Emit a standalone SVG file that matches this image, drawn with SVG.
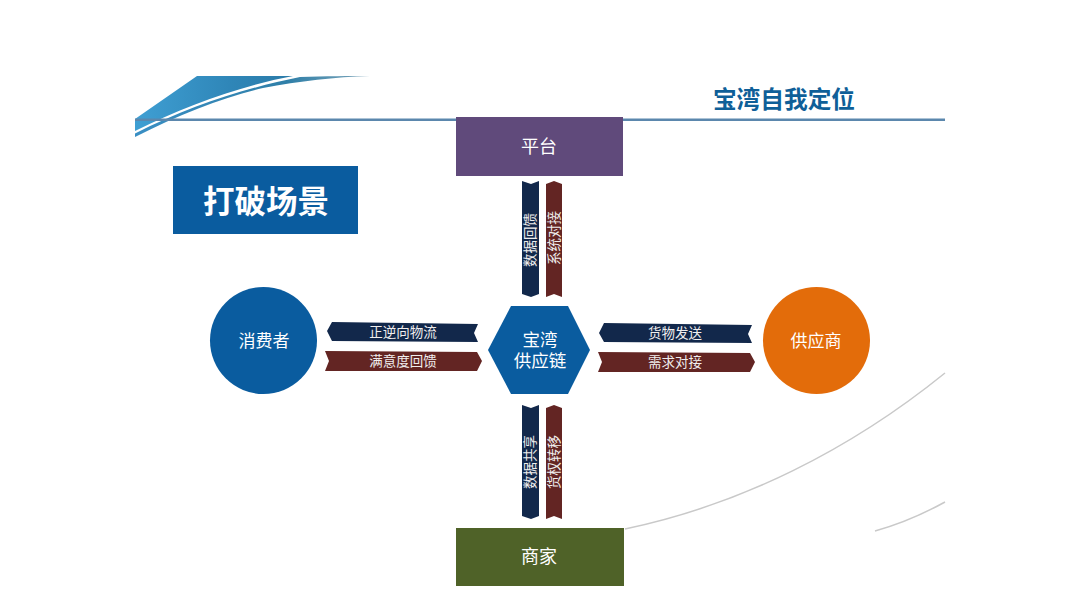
<svg xmlns="http://www.w3.org/2000/svg" width="1080" height="608" viewBox="0 0 1080 608">
<defs>
<linearGradient id="sw" x1="0" y1="0" x2="1" y2="0"><stop offset="0" stop-color="#3f9fd3"/><stop offset="0.6" stop-color="#2f86b8"/><stop offset="1" stop-color="#2b7ba8"/></linearGradient>
<linearGradient id="sw2" x1="0" y1="0" x2="1" y2="0"><stop offset="0" stop-color="#3a8fc4"/><stop offset="0.65" stop-color="#2f7fa8"/><stop offset="1" stop-color="#7fa6ba"/></linearGradient>
</defs>
<style>
.t{font-family:"Noto Sans CJK SC","Liberation Sans",sans-serif;text-anchor:middle;fill:#fff}
.n{font-size:17px}
.b{font-size:18px}
.r{font-size:13.500px;fill:#f0eeee}
.navy{fill:#12284b}
.maroon{fill:#632523}
.curve{fill:none;stroke:#c9c9c9;stroke-width:1.500}
</style>
<rect width="1080" height="608" fill="#fff"/>
<g id="decor">
<path d="M135 119 L197 76 L293 76 C240 86 185 106 135 131 Z" fill="url(#sw)"/>
<path d="M135 133.500 C190 106 245 88 300 77 C325 76 350 76 370 76 C335 77 300 81 263 88 C225 97 180 114 135 137 Z" fill="url(#sw2)"/>
<rect x="135" y="118.500" width="810" height="2.500" fill="#5b87ad"/>
<path class="curve" d="M625 529 C740 505 850 450 945 373"/>
<path class="curve" d="M875 531 C900 524 925 513 945 502"/>
</g>
<text id="title" x="784" y="108" class="t" style="font-size:23.700px;font-weight:700;fill:#0f5f98">宝湾自我定位</text>
<g id="scene"><rect x="173" y="166" width="185" height="68" fill="#0a5c9f"/><text x="266" y="213" class="t" style="font-size:31.500px;font-weight:700">打破场景</text></g>
<g id="connectors">
<g id="c-left">
<path class="navy" d="M332 322 L478 324 L474 333 L478 342 L332 341 L327 331 Z"/><text x="403" y="337" class="t r">正逆向物流</text>
<path class="maroon" d="M325 351 L477 352 L482 361 L477 371 L325 371 L329 361 Z"/><text x="403" y="366" class="t r">满意度回馈</text>
</g>
<g id="c-right">
<path class="navy" d="M604 323 L752 325 L748 334 L752 343 L604 342 L599 333 Z"/><text x="675" y="338" class="t r">货物发送</text>
<path class="maroon" d="M598 352 L750 353 L755 362 L750 372 L598 372 L602 362 Z"/><text x="675" y="367" class="t r">需求对接</text>
</g>
<g id="c-top">
<path class="navy" d="M522 181 L531 184 L539 181 L539 294 L531 297 L522 294 Z"/><text transform="translate(535 240) rotate(-90)" class="t r">数据回馈</text>
<path class="maroon" d="M546 184 L554 181 L562 184 L562 297 L554 294 L546 297 Z"/><text transform="translate(559 238) rotate(-90)" class="t r">系统对接</text>
</g>
<g id="c-bottom">
<path class="navy" d="M522 405 L531 408 L539 405 L539 516 L531 519 L522 516 Z"/><text transform="translate(535 462) rotate(-90)" class="t r">数据共享</text>
<path class="maroon" d="M546 408 L554 405 L562 408 L562 519 L554 516 L546 519 Z"/><text transform="translate(559 462) rotate(-90)" class="t r">货权转移</text>
</g>
</g>
<g id="platform"><rect x="456" y="117" width="167" height="59" fill="#604a7b"/><text x="539" y="153" class="t b">平台</text></g>
<g id="merchant"><rect x="456" y="528" width="168" height="58" fill="#4f6228"/><text x="539" y="563" class="t b">商家</text></g>
<g id="consumer"><circle cx="263.500" cy="340.500" r="53.500" fill="#0a5c9f"/><text x="264" y="346.500" class="t n">消费者</text></g>
<g id="supplier"><circle cx="816.500" cy="340.500" r="53.500" fill="#e36c0a"/><text x="816" y="346.500" class="t n">供应商</text></g>
<g id="hub"><path d="M511 306 L568 306 L590 350 L568 394 L511 394 L488 350 Z" fill="#0a5c9f"/><text class="t" style="font-size:17.500px"><tspan x="540" y="346">宝湾</tspan><tspan x="540" y="367">供应链</tspan></text></g>
</svg>
